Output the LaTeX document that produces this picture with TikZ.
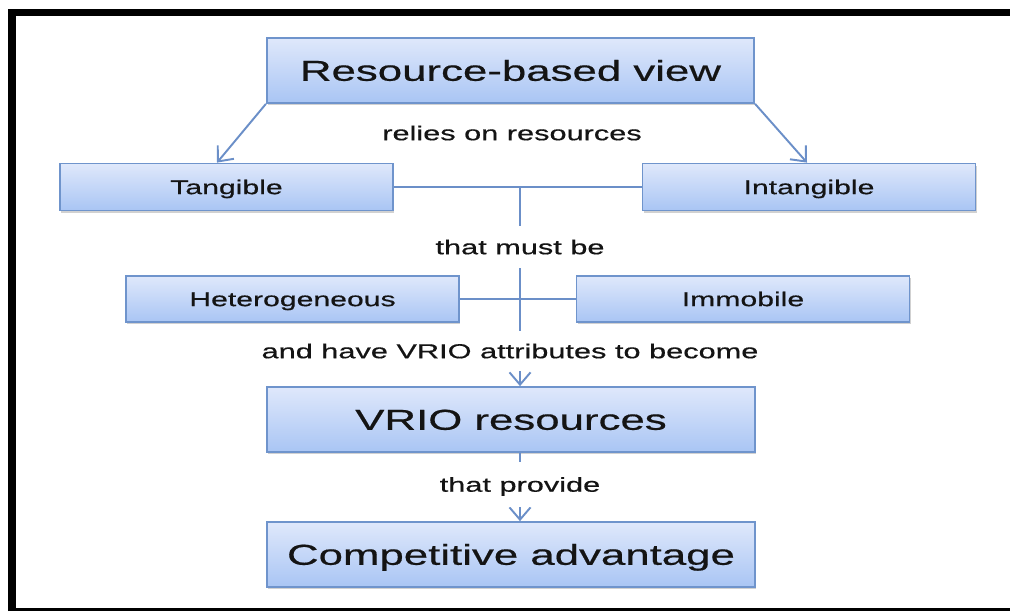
\documentclass[tikz,border=0pt]{standalone}
\usepackage{fontspec}
\usetikzlibrary{arrows.meta, positioning, shadows}
\newfontfamily\diagfont[FakeStretch=1.52, FakeBold=0.5]{Liberation Sans}
\definecolor{boxtop}{HTML}{DFE8FB}
\definecolor{boxbot}{HTML}{A9C5F4}
\definecolor{boxline}{HTML}{6F94CC}
\definecolor{linkcol}{HTML}{6B8FC8}
\definecolor{inkcol}{HTML}{141414}

\begin{document}
\begin{tikzpicture}[
  x=0.02cm, y=-0.02cm,
  box/.style={draw=boxline, line width=1pt, top color=boxtop, bottom color=boxbot,
    drop shadow={shadow xshift=0.6pt, shadow yshift=-1.4pt, fill=black!45, opacity=0.4},
    text=inkcol, align=center, inner sep=0pt, text depth=0pt},
  smallbox/.style={box, minimum width=6.66cm, minimum height=0.94cm, text height=8.1pt,
    font=\diagfont\fontsize{11.3}{13}\selectfont},
  bigbox/.style={box, minimum width=9.75cm, minimum height=1.3cm, text height=11.7pt,
    font=\diagfont\fontsize{16.4}{19}\selectfont},
  link/.style={draw=linkcol, line width=1.1pt},
  arrow/.style={link, -{Straight Barb[length=7pt, width=12pt]}},
  lbl/.style={fill=white, text=inkcol, inner sep=0pt, minimum height=0.82cm,
    text height=8.2pt, text depth=0pt,
    font=\diagfont\fontsize{11.5}{13}\selectfont}
]
  \useasboundingbox (0,0) rectangle (1010,612);

  % frame
  \draw[line width=4.5pt] (12,611) -- (12,9);
  \draw[line width=4pt] (8,12.5) -- (1010,12.5);
  \draw[line width=1.7pt] (8,609.5) -- (1010,609.5);

  \node[bigbox] (rbv) at (510.5,70.5) {Resource-based view};
  \node[smallbox] (tang) at (226.5,187) {Tangible};
  \node[smallbox] (intang) at (809,187) {Intangible};
  \node[smallbox, minimum height=0.92cm] (hetero) at (292.5,299) {Heterogeneous};
  \node[smallbox, minimum height=0.92cm] (immob) at (743,299) {Immobile};
  \node[bigbox] (vrio) at (511,419.5) {VRIO resources};
  \node[bigbox] (comp) at (511,554.5) {Competitive advantage};

  \coordinate (hub) at (520,187);

  \draw[arrow] (rbv.south west) -- (tang.north -| 217,0);
  \draw[arrow] (rbv.south east) -- (intang.north -| 807,0);
  \draw[link] (tang.east) -- (intang.west);
  \draw[link] (hetero.east) -- (immob.west);
  \draw[arrow] (hub) -- (vrio.north -| hub);
  \draw[arrow] (vrio.south -| hub) -- (comp.north -| hub);

  % labels on top of the trunk
  \node[lbl, fill=none] (relies) at (512,133) {relies on resources};
  \node[lbl, minimum height=0.84cm] (mustbe) at (520,247) {that must be};
  \node[lbl, minimum height=0.8cm] (become) at (510,351) {and have VRIO attributes to become};
  \node[lbl, minimum height=0.9cm] (provide) at (520,484.5) {that provide};
\end{tikzpicture}
\end{document}
